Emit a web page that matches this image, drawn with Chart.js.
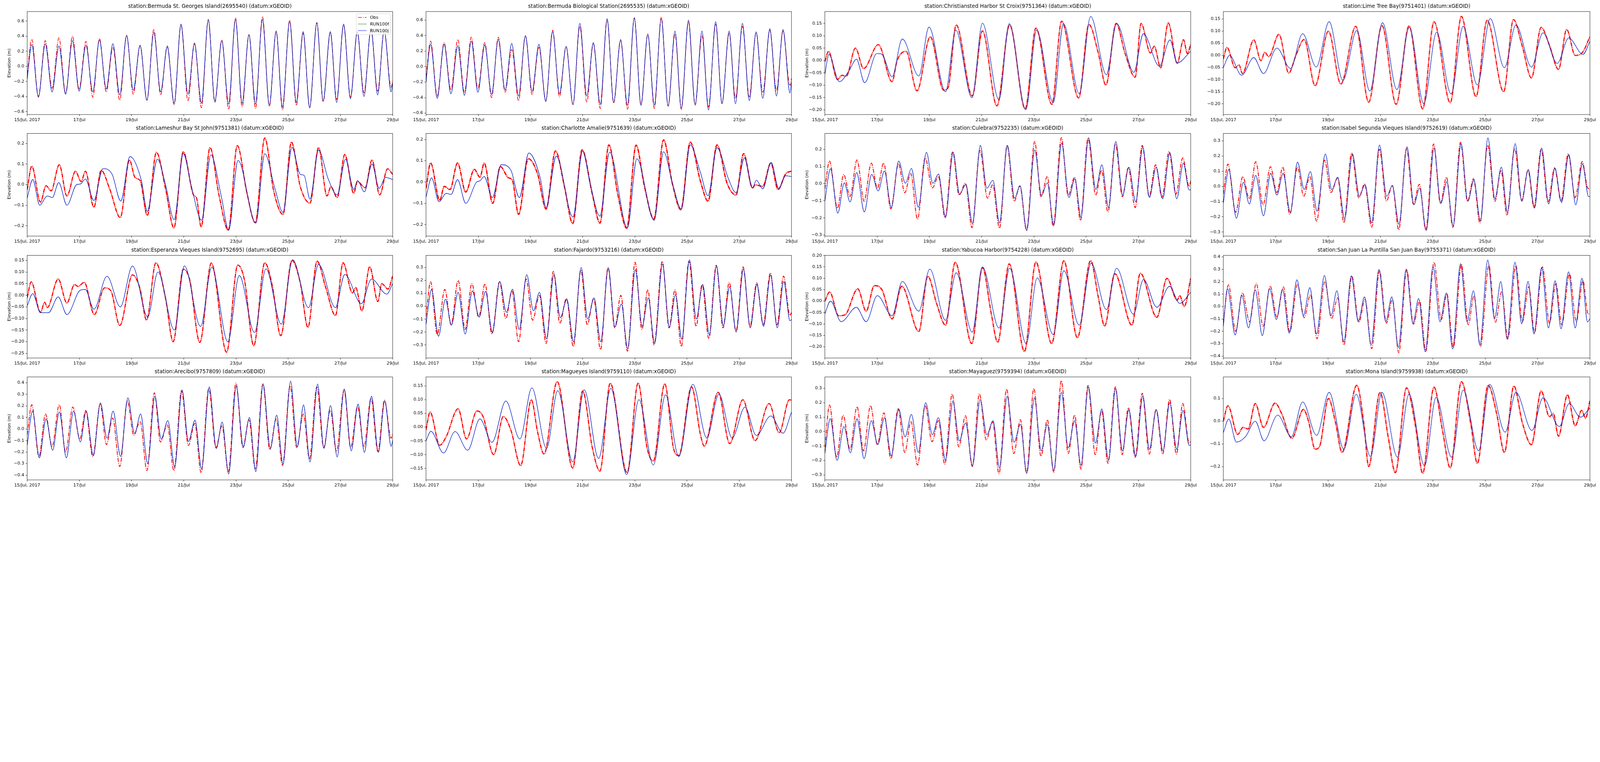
<!DOCTYPE html>
<html lang="en">
<head>
  <meta charset="UTF-8">
  <title>Water elevation at stations, 15-29 Jul 2017</title>
  <script src="https://cdn.jsdelivr.net/npm/chart.js"></script>
  <style>
    html, body { margin: 0; padding: 0; background: #fff; overflow: hidden; }
    #fig { position: relative; background: #fff; overflow: hidden; }
    #fig canvas { position: absolute; }
  </style>
</head>
<body>
<div id="fig"></div>
<script>
// ---- data (hours since 15/Jul 00:00, elevation in m) ----
const seriesNames = ['Obs', 'RUN100f', 'RUN100j'];
const xTicks = [0, 48, 96, 144, 192, 240, 288, 336];
const xTickLabels = ['15/Jul, 2017', '17/Jul', '19/Jul', '21/Jul', '23/Jul', '25/Jul', '27/Jul', '29/Jul'];

const titles = [
  'station:Bermuda St. Georges Island(2695540) (datum:xGEOID)',
  'station:Bermuda Biological Station(2695535) (datum:xGEOID)',
  'station:Christiansted Harbor St Croix(9751364) (datum:xGEOID)',
  'station:Lime Tree Bay(9751401) (datum:xGEOID)',
  'station:Lameshur Bay St John(9751381) (datum:xGEOID)',
  'station:Charlotte Amalie(9751639) (datum:xGEOID)',
  'station:Culebra(9752235) (datum:xGEOID)',
  'station:Isabel Segunda Vieques Island(9752619) (datum:xGEOID)',
  'station:Esperanza Vieques Island(9752695) (datum:xGEOID)',
  'station:Fajardo(9753216) (datum:xGEOID)',
  'station:Yabucoa Harbor(9754228) (datum:xGEOID)',
  'station:San Juan La Puntilla San Juan Bay(9755371) (datum:xGEOID)',
  'station:Arecibo(9757809) (datum:xGEOID)',
  'station:Magueyes Island(9759110) (datum:xGEOID)',
  'station:Mayaguez(9759394) (datum:xGEOID)',
  'station:Mona Island(9759938) (datum:xGEOID)'
];

const yLimits = [
  [-0.639, 0.726], [-0.618, 0.711], [-0.219, 0.198], [-0.244, 0.181],
  [-0.250, 0.249], [-0.254, 0.229], [-0.306, 0.293], [-0.327, 0.349],
  [-0.270, 0.172], [-0.401, 0.394], [-0.249, 0.2005], [-0.415, 0.4125],
  [-0.441, 0.451], [-0.192, 0.183], [-0.335, 0.379], [-0.258, 0.195]
];
const yTicks = [
  [-0.6, -0.4, -0.2, 0, 0.2, 0.4, 0.6],
  [-0.6, -0.4, -0.2, 0, 0.2, 0.4, 0.6],
  [-0.2, -0.15, -0.1, -0.05, 0, 0.05, 0.1, 0.15],
  [-0.2, -0.15, -0.1, -0.05, 0, 0.05, 0.1, 0.15],
  [-0.2, -0.1, 0, 0.1, 0.2],
  [-0.2, -0.1, 0, 0.1, 0.2],
  [-0.3, -0.2, -0.1, 0, 0.1, 0.2],
  [-0.3, -0.2, -0.1, 0, 0.1, 0.2, 0.3],
  [-0.25, -0.2, -0.15, -0.1, -0.05, 0, 0.05, 0.1, 0.15],
  [-0.3, -0.2, -0.1, 0, 0.1, 0.2, 0.3],
  [-0.2, -0.15, -0.1, -0.05, 0, 0.05, 0.1, 0.15, 0.2],
  [-0.4, -0.3, -0.2, -0.1, 0, 0.1, 0.2, 0.3, 0.4],
  [-0.4, -0.3, -0.2, -0.1, 0, 0.1, 0.2, 0.3, 0.4],
  [-0.15, -0.1, -0.05, 0, 0.05, 0.1, 0.15],
  [-0.3, -0.2, -0.1, 0, 0.1, 0.2, 0.3],
  [-0.2, -0.1, 0, 0.1]
];
const yDecimals = [1, 1, 2, 2, 1, 1, 1, 1, 2, 1, 2, 1, 1, 2, 1, 1];

// Bermuda: both stations share the same high/low times
const hoursBermuda = [0, 4.2, 10.3, 16.6, 22.9, 29.2, 35.3, 41.6, 47.7, 54.0, 60.3, 66.4, 72.7, 78.8, 85.1, 91.4,
  97.5, 103.8, 110.1, 116.4, 122.7, 128.8, 135.1, 141.4, 147.8, 153.8, 160.2, 166.5, 172.5, 178.9, 185.2, 191.5,
  197.6, 203.9, 209.9, 216.3, 222.6, 228.9, 234.7, 241.3, 247.4, 253.7, 259.7, 266.3, 272.1, 278.7, 284.5, 290.9,
  297.2, 303.5, 309.6, 316.1, 322.2, 328.2, 334.6, 336];
const obsStGeorges = [-0.10, 0.36, -0.40, 0.34, -0.29, 0.38, -0.36, 0.40, -0.30, 0.33, -0.41, 0.37, -0.34, 0.25, -0.45,
  0.41, -0.37, 0.27, -0.45, 0.49, -0.38, 0.27, -0.51, 0.55, -0.46, 0.30, -0.55, 0.62, -0.48, 0.35, -0.57, 0.64, -0.54,
  0.42, -0.56, 0.66, -0.53, 0.46, -0.58, 0.61, -0.52, 0.44, -0.55, 0.58, -0.47, 0.45, -0.44, 0.55, -0.41, 0.45, -0.35,
  0.48, -0.33, 0.47, -0.28, -0.19];
const runStGeorges = [-0.17, 0.29, -0.41, 0.30, -0.34, 0.27, -0.37, 0.34, -0.33, 0.28, -0.34, 0.35, -0.30, 0.30, -0.38,
  0.41, -0.32, 0.28, -0.45, 0.45, -0.34, 0.26, -0.49, 0.56, -0.37, 0.31, -0.49, 0.62, -0.46, 0.34, -0.50, 0.62, -0.49,
  0.42, -0.50, 0.62, -0.52, 0.47, -0.54, 0.60, -0.48, 0.46, -0.55, 0.58, -0.46, 0.46, -0.48, 0.56, -0.43, 0.46, -0.40,
  0.50, -0.38, 0.48, -0.34, -0.22];
const obsBermudaBio = [-0.13, 0.33, -0.38, 0.31, -0.30, 0.35, -0.33, 0.38, -0.28, 0.31, -0.40, 0.38, -0.33, 0.22, -0.44,
  0.40, -0.36, 0.25, -0.44, 0.47, -0.39, 0.26, -0.49, 0.52, -0.46, 0.30, -0.54, 0.60, -0.47, 0.35, -0.55, 0.63, -0.49,
  0.42, -0.54, 0.64, -0.51, 0.42, -0.55, 0.58, -0.50, 0.40, -0.52, 0.55, -0.47, 0.43, -0.41, 0.52, -0.39, 0.44, -0.33,
  0.47, -0.31, 0.46, -0.24, -0.15];
const runBermudaBio = [-0.20, 0.29, -0.41, 0.29, -0.35, 0.27, -0.37, 0.33, -0.33, 0.28, -0.36, 0.35, -0.30, 0.30, -0.38,
  0.40, -0.32, 0.29, -0.45, 0.45, -0.35, 0.26, -0.49, 0.56, -0.38, 0.31, -0.49, 0.62, -0.46, 0.34, -0.50, 0.63, -0.50,
  0.42, -0.50, 0.62, -0.51, 0.46, -0.54, 0.60, -0.49, 0.46, -0.56, 0.58, -0.48, 0.46, -0.48, 0.56, -0.44, 0.45, -0.41,
  0.49, -0.38, 0.48, -0.34, -0.20];

const obsChristiansted = [[0,-0.005],[3.3,0.037],[11.5,-0.077],[15.7,-0.06],[19.6,-0.064],[28.1,0.05],[35.5,-0.033],
  [49.1,0.064],[61.7,-0.086],[66.4,0.0],[74.6,0.037],[84.6,-0.123],[96.8,0.096],[109.0,-0.12],[113.2,-0.11],[120.6,0.144],
  [135.4,-0.144],[144.7,0.12],[158.0,-0.184],[169.7,0.144],[184.0,-0.196],[193.8,0.131],[208.5,-0.178],[217.4,0.159],
  [233.1,-0.152],[242.5,0.146],[251.1,0.03],[258.1,-0.10],[267.5,0.15],[275.6,0.03],[285.0,-0.068],[290.4,0.15],
  [299.0,0.03],[302.5,0.058],[308.4,-0.03],[315.4,0.152],[323.6,-0.011],[329.4,0.084],[332.9,0.028],[336,0.065]];
const runChristiansted = [[0,-0.055],[3.7,0.024],[13.3,-0.086],[22.0,-0.043],[29.0,0.005],[36.5,-0.09],[47.7,0.028],
  [52.4,0.025],[61.7,-0.066],[71.1,0.087],[86.3,-0.063],[95.6,0.135],[110.8,-0.127],[120.2,0.123],[135.1,-0.151],
  [144.7,0.151],[159.9,-0.159],[169.3,0.149],[184.5,-0.199],[194.5,0.123],[209.7,-0.171],[219.1,0.149],[233.6,-0.134],
  [244.1,0.178],[258.6,-0.058],[267.9,0.15],[283.8,-0.048],[292.5,0.108],[307.2,-0.023],[317.0,0.083],[323.6,-0.01],
  [336,0.037]];

const obsLimeTree = [[0,-0.015],[3.3,0.033],[10.9,-0.051],[14.4,-0.039],[17.5,-0.075],[27.9,0.064],[34.5,-0.022],
  [38.0,0.013],[41.6,-0.005],[51.0,0.087],[60.0,-0.073],[66.3,-0.003],[74.1,0.066],[84.1,-0.125],[96.3,0.10],
  [107.7,-0.118],[121.4,0.12],[133.2,-0.193],[145.4,0.123],[158.4,-0.202],[170.2,0.122],[182.7,-0.221],[193.1,0.139],
  [208.0,-0.195],[218.2,0.161],[231.6,-0.17],[241.8,0.145],[256.9,-0.15],[265.9,0.148],[274.1,0.036],[282.4,-0.093],
  [291.3,0.116],[298.9,0.042],[307.2,-0.058],[314.7,0.107],[322.5,0.0],[329.6,0.015],[336,0.078]];
const runLimeTree = [[0,-0.05],[5.7,0.0],[16.8,-0.082],[27.9,-0.009],[36.8,-0.075],[49.1,0.03],[61.6,-0.054],
  [72.7,0.09],[85.2,-0.048],[97.0,0.139],[109.6,-0.103],[122.3,0.103],[134.3,-0.147],[145.9,0.135],[159.1,-0.141],
  [170.5,0.116],[183.7,-0.199],[195.5,0.096],[208.7,-0.159],[219.8,0.12],[232.8,-0.122],[244.6,0.152],[257.6,-0.051],
  [268.2,0.126],[282.4,-0.048],[293.0,0.093],[306.0,-0.033],[316.6,0.072],[329.6,0.004],[336,0.058]];

const obsLameshur = [[0,-0.025],[4.2,0.09],[12.2,-0.085],[17.3,-0.005],[22.0,-0.03],[29.5,0.097],[36.5,-0.055],
  [44.4,0.065],[49.6,0.015],[53.5,0.065],[61.3,-0.11],[68.0,0.07],[75.8,-0.02],[85.6,-0.16],[94.0,0.12],[99.1,0.035],
  [103.8,0.02],[110.4,-0.15],[118.8,0.157],[127.2,-0.02],[134.9,-0.21],[143.5,0.16],[152.9,-0.05],[155.7,-0.065],
  [159.9,-0.205],[168.1,0.18],[176.3,-0.05],[184.9,-0.222],[193.1,0.19],[202.0,-0.04],[209.7,-0.185],[218.4,0.227],
  [226.6,-0.03],[235.2,-0.145],[242.9,0.207],[251.1,-0.01],[260.0,-0.09],[267.9,0.18],[275.6,-0.055],[279.2,-0.01],
  [285.0,-0.063],[292.0,0.147],[300.2,-0.042],[303.7,0.015],[310.7,-0.015],[317.0,0.12],[324.1,-0.05],[331.3,0.077],
  [336,0.05]];
const runLameshur = [[0,-0.065],[5.1,0.025],[11.5,-0.10],[18.5,-0.055],[23.1,-0.063],[29.0,0.01],[36.5,-0.10],
  [45.4,0.0],[48.9,0.003],[53.5,0.027],[61.3,-0.077],[69.7,0.078],[78.1,0.05],[86.0,-0.08],[94.5,0.137],[105.0,0.02],
  [110.4,-0.13],[119.7,0.124],[127.2,0.0],[135.1,-0.17],[143.5,0.152],[150.6,0.0],[160.4,-0.173],[168.8,0.145],
  [178.6,-0.06],[185.2,-0.222],[193.8,0.118],[210.2,-0.187],[218.4,0.15],[227.7,-0.018],[235.2,-0.135],[243.4,0.182],
  [251.1,0.05],[254.6,0.045],[260.0,-0.07],[267.9,0.168],[276.8,0.027],[285.0,-0.05],[292.7,0.124],[300.2,-0.024],
  [303.7,0.02],[310.0,-0.035],[317.0,0.10],[323.6,-0.018],[329.4,0.035],[336,0.025]];

const obsCharlotte = [[0,-0.03],[4.2,0.09],[12.6,-0.086],[16.8,-0.02],[22.0,-0.035],[29.0,0.09],[36.5,-0.047],
  [44.4,0.06],[49.6,0.023],[53.5,0.089],[61.3,-0.10],[68.3,0.073],[75.8,0.02],[79.3,0.01],[85.1,-0.152],[94.0,0.11],
  [102.6,0.038],[110.4,-0.127],[119.0,0.147],[127.2,-0.02],[134.9,-0.195],[143.5,0.152],[152.9,-0.057],[159.9,-0.193],
  [168.1,0.175],[176.3,-0.057],[184.5,-0.217],[193.1,0.174],[200.8,-0.02],[209.5,-0.174],[218.4,0.199],[226.6,-0.01],
  [234.3,-0.13],[242.9,0.188],[252.3,0.004],[259.3,-0.09],[267.5,0.175],[276.8,-0.006],[285.0,-0.061],[292.0,0.134],
  [300.2,-0.028],[302.5,-0.013],[309.6,-0.02],[317.0,0.09],[323.6,-0.035],[330.6,0.038],[336,0.052]];
const runCharlotte = [[0,-0.07],[5.1,0.02],[11.9,-0.093],[18.5,-0.053],[23.1,-0.058],[29.0,0.012],[36.5,-0.10],
  [46.5,0.0],[49.6,0.006],[53.5,0.026],[61.0,-0.073],[69.2,0.082],[78.1,0.055],[85.8,-0.073],[94.5,0.137],[105.0,0.02],
  [110.4,-0.12],[119.7,0.122],[135.1,-0.164],[144.0,0.146],[150.6,0.0],[159.9,-0.16],[168.8,0.14],[185.2,-0.215],
  [193.8,0.11],[209.7,-0.18],[218.4,0.143],[226.6,-0.006],[234.7,-0.126],[242.9,0.175],[252.3,0.045],[259.3,-0.064],
  [267.5,0.162],[278.0,0.016],[285.0,-0.05],[292.7,0.114],[300.2,-0.028],[303.7,0.009],[309.6,-0.032],[317.3,0.093],
  [324.3,-0.03],[330.6,0.03],[336,0.026]];

const obsCulebra = [[0,-0.03],[4.2,0.132],[11.5,-0.143],[17.3,0.053],[23.1,-0.074],[29.5,0.138],[36.0,-0.103],
  [42.6,0.12],[48.2,-0.027],[54.0,0.12],[60.6,-0.147],[67.6,0.116],[73.4,-0.053],[78.8,0.06],[85.1,-0.207],[92.1,0.15],
  [98.7,-0.025],[104.3,0.042],[110.4,-0.20],[117.4,0.187],[123.2,-0.067],[129.1,0.002],[135.1,-0.257],[142.4,0.194],
  [149.4,-0.085],[154.1,-0.005],[160.4,-0.26],[167.4,0.223],[173.9,-0.103],[179.1,-0.013],[185.2,-0.27],[192.7,0.246],
  [198.5,-0.076],[204.3,0.042],[209.7,-0.248],[217.2,0.268],[223.5,-0.07],[229.4,0.038],[234.7,-0.215],[241.7,0.263],
  [248.8,-0.067],[254.1,0.078],[260.0,-0.165],[266.8,0.232],[273.3,-0.076],[278.7,0.092],[285.0,-0.14],[291.5,0.223],
  [297.9,-0.076],[303.7,0.11],[309.6,-0.081],[316.1,0.188],[322.4,-0.062],[328.7,0.15],[334.6,-0.016],[336,0.016]];
const runCulebra = [[0,-0.10],[5.1,0.087],[11.9,-0.172],[17.8,0.005],[23.1,-0.107],[29.2,0.065],[36.2,-0.165],
  [43.0,0.054],[48.9,-0.043],[54.7,0.074],[61.0,-0.14],[67.8,0.132],[73.9,0.002],[79.5,0.089],[85.8,-0.138],[93.3,0.183],
  [99.1,0.002],[104.3,0.056],[110.8,-0.197],[117.8,0.183],[123.7,-0.062],[129.5,-0.005],[135.6,-0.234],[142.8,0.223],
  [148.7,-0.027],[154.3,0.02],[160.4,-0.23],[167.6,0.223],[174.2,-0.085],[179.3,-0.013],[185.4,-0.274],[192.7,0.197],
  [199.0,-0.07],[204.3,0.005],[210.2,-0.243],[217.4,0.237],[224.2,-0.081],[229.6,0.029],[235.2,-0.197],[242.2,0.268],
  [248.8,-0.034],[254.4,0.11],[260.5,-0.14],[267.2,0.246],[273.5,-0.067],[279.2,0.096],[285.5,-0.107],[292.0,0.214],
  [298.1,-0.081],[304.2,0.096],[310.3,-0.089],[316.8,0.18],[323.2,-0.089],[329.2,0.12],[334.6,-0.038],[336,-0.034]];

const obsIsabel = [[0,-0.05],[4.2,0.147],[11.3,-0.17],[17.9,0.065],[23.8,-0.082],[29.7,0.163],[36.4,-0.122],
  [43.2,0.13],[49.1,-0.04],[54.5,0.127],[60.9,-0.184],[68.0,0.127],[73.7,-0.065],[79.3,0.065],[85.5,-0.229],[92.8,0.173],
  [98.7,-0.04],[104.8,0.055],[110.5,-0.239],[117.6,0.22],[124.2,-0.076],[129.4,0.016],[136.0,-0.269],[143.1,0.245],
  [149.5,-0.096],[154.9,0.006],[160.8,-0.286],[167.9,0.249],[174.2,-0.116],[179.7,0.014],[185.6,-0.286],[192.7,0.28],
  [199.0,-0.112],[204.5,0.061],[210.4,-0.269],[217.4,0.29],[223.8,-0.098],[229.3,0.051],[235.2,-0.241],[242.3,0.271],
  [248.9,-0.098],[254.5,0.106],[259.9,-0.188],[267.0,0.249],[273.4,-0.092],[279.3,0.106],[284.7,-0.139],[291.3,0.245],
  [297.7,-0.102],[303.6,0.122],[309.5,-0.096],[316.1,0.214],[322.5,-0.073],[328.9,0.163],[334.3,-0.014],[336,-0.01]];
const runIsabel = [[0,-0.11],[5.0,0.112],[12.0,-0.21],[18.4,0.027],[23.8,-0.116],[29.7,0.073],[36.8,-0.194],
  [43.4,0.086],[49.1,-0.057],[54.8,0.086],[61.4,-0.171],[68.0,0.16],[74.1,-0.02],[79.8,0.098],[85.9,-0.163],[93.5,0.214],
  [99.4,-0.022],[104.8,0.061],[111.2,-0.214],[118.3,0.214],[124.7,-0.065],[129.9,0.012],[136.0,-0.241],[143.1,0.273],
  [149.7,-0.065],[154.9,0.004],[161.0,-0.249],[168.3,0.261],[174.7,-0.122],[179.9,-0.01],[186.0,-0.29],[193.1,0.255],
  [199.3,-0.112],[204.9,0.031],[210.6,-0.261],[217.9,0.282],[224.1,-0.098],[229.7,0.041],[235.6,-0.229],[242.5,0.32],
  [248.9,-0.082],[254.8,0.127],[260.4,-0.171],[267.5,0.282],[273.6,-0.098],[279.5,0.112],[285.2,-0.143],[291.8,0.253],
  [298.2,-0.116],[303.9,0.122],[310.0,-0.106],[316.6,0.21],[323.0,-0.122],[329.1,0.149],[334.8,-0.067],[336,-0.067]];

const obsEsperanza = [[0,-0.01],[3.7,0.058],[12.2,-0.073],[16.1,-0.03],[18.5,-0.053],[28.5,0.07],[36.5,-0.033],
  [43.5,0.046],[46.8,0.038],[52.4,0.056],[61.7,-0.083],[71.1,0.032],[76.9,0.02],[85.1,-0.13],[96.8,0.088],[103.8,0.027],
  [109.7,-0.107],[118.3,0.14],[127.2,-0.013],[134.2,-0.20],[143.5,0.112],[149.4,0.067],[158.7,-0.203],[169.3,0.139],
  [183.3,-0.245],[193.6,0.13],[199.7,0.067],[208.3,-0.217],[218.4,0.14],[225.4,0.04],[233.1,-0.174],[243.4,0.15],
  [251.1,0.053],[258.1,-0.138],[266.5,0.147],[274.5,0.033],[283.4,-0.087],[290.4,0.14],[299.0,0.01],[302.1,0.033],
  [307.7,-0.067],[314.9,0.123],[322.4,-0.027],[325.9,0.05],[331.8,0.027],[336,0.083]];
const runEsperanza = [[0,-0.045],[5.1,0.007],[12.2,-0.075],[19.6,-0.075],[28.5,-0.007],[36.5,-0.083],[48.9,0.022],
  [53.5,0.025],[61.3,-0.06],[73.4,0.082],[85.6,-0.05],[96.8,0.126],[110.8,-0.093],[120.2,0.10],[135.4,-0.15],
  [144.5,0.127],[159.4,-0.134],[169.7,0.12],[184.5,-0.20],[195.0,0.085],[209.0,-0.16],[219.5,0.114],[233.6,-0.124],
  [244.1,0.153],[258.6,-0.053],[267.9,0.133],[283.4,-0.053],[292.0,0.09],[307.2,-0.036],[316.6,0.07],[330.6,0.005],
  [336,0.05]];

const obsFajardo = [[0,-0.08],[4.2,0.19],[10.3,-0.22],[17.3,0.13],[23.1,-0.145],[29.5,0.20],[36.0,-0.18],[42.1,0.175],
  [48.4,-0.085],[54.2,0.173],[60.6,-0.215],[67.6,0.19],[73.4,-0.095],[79.0,0.12],[85.1,-0.275],[92.1,0.21],[98.0,-0.108],
  [104.3,0.084],[110.4,-0.288],[117.1,0.27],[123.0,-0.132],[129.1,0.06],[135.4,-0.312],[142.4,0.28],[148.2,-0.144],
  [154.1,0.06],[160.4,-0.336],[167.4,0.30],[173.5,-0.168],[179.1,0.084],[185.2,-0.348],[192.2,0.34],[198.5,-0.18],
  [203.9,0.127],[209.7,-0.30],[217.2,0.348],[223.5,-0.168],[228.9,0.127],[234.7,-0.312],[241.7,0.348],[248.3,-0.156],
  [253.9,0.168],[260.0,-0.252],[266.8,0.317],[273.1,-0.168],[278.7,0.185],[285.0,-0.192],[291.5,0.305],[297.9,-0.156],
  [304.0,0.18],[310.0,-0.144],[316.6,0.257],[322.7,-0.144],[328.7,0.233],[334.6,-0.072],[336,-0.048]];
const runFajardo = [[0,-0.14],[5.1,0.13],[11.5,-0.233],[17.8,0.055],[23.4,-0.146],[29.5,0.108],[36.0,-0.216],
  [42.6,0.118],[48.9,-0.084],[54.7,0.115],[61.0,-0.204],[67.8,0.192],[73.9,-0.048],[79.5,0.132],[85.6,-0.18],[92.6,0.245],
  [98.7,-0.036],[104.3,0.108],[110.8,-0.252],[117.6,0.247],[123.4,-0.089],[129.5,0.053],[135.6,-0.276],[142.6,0.30],
  [148.7,-0.098],[154.5,0.065],[160.6,-0.276],[167.6,0.295],[173.7,-0.16],[179.6,0.017],[185.4,-0.33],[192.4,0.283],
  [198.7,-0.156],[204.3,0.065],[210.2,-0.288],[217.4,0.328],[223.7,-0.163],[229.4,0.089],[235.2,-0.257],[242.2,0.36],
  [248.5,-0.10],[254.4,0.168],[260.5,-0.223],[267.0,0.312],[273.3,-0.15],[279.2,0.151],[285.2,-0.20],[291.8,0.288],
  [298.1,-0.168],[304.2,0.168],[310.3,-0.156],[316.8,0.242],[322.9,-0.168],[328.9,0.192],[334.6,-0.113],[336,-0.103]];

const obsYabucoa = [[0,0.0],[4.4,0.04],[12.6,-0.064],[18.5,-0.06],[30.2,0.054],[37.9,-0.044],[45.4,0.068],[52.4,0.05],
  [61.7,-0.078],[70.6,0.065],[86.3,-0.133],[94.5,0.109],[102.6,-0.01],[110.8,-0.105],[119.7,0.17],[134.9,-0.186],
  [144.7,0.147],[152.9,-0.057],[158.7,-0.18],[169.3,0.163],[183.3,-0.22],[193.8,0.171],[208.3,-0.186],[219.5,0.177],
  [231.9,-0.16],[244.1,0.177],[251.1,0.018],[256.9,-0.109],[266.3,0.12],[282.0,-0.105],[289.7,0.122],[304.9,-0.071],
  [314.2,0.10],[323.6,0.004],[325.9,0.024],[330.1,-0.023],[336,0.10]];
const runYabucoa = [[0,-0.055],[5.1,0.0],[15.0,-0.09],[29.0,-0.027],[37.9,-0.09],[48.2,0.024],[61.7,-0.064],
  [71.1,0.086],[86.3,-0.044],[96.3,0.14],[110.8,-0.084],[120.6,0.124],[135.4,-0.136],[144.7,0.15],[159.9,-0.118],
  [169.7,0.144],[184.9,-0.186],[195.0,0.102],[209.7,-0.146],[219.5,0.133],[233.6,-0.105],[244.6,0.166],[258.6,-0.037],
  [267.9,0.144],[283.4,-0.057],[292.7,0.095],[304.9,-0.027],[316.6,0.065],[325.9,-0.01],[336,0.038]];

const obsSanJuan = [[0,-0.13],[4.7,0.175],[11.3,-0.20],[17.5,0.11],[24.1,-0.123],[30.2,0.187],[36.4,-0.16],[43.0,0.165],
  [49.1,-0.085],[55.0,0.16],[60.9,-0.205],[68.0,0.178],[74.1,-0.09],[79.8,0.095],[85.9,-0.26],[93.0,0.20],[99.2,-0.098],
  [104.8,0.07],[110.5,-0.31],[117.8,0.245],[124.2,-0.128],[129.9,0.058],[136.0,-0.34],[143.1,0.29],[149.5,-0.135],
  [154.9,0.058],[160.8,-0.373],[168.1,0.295],[174.2,-0.143],[179.9,0.045],[185.6,-0.36],[193.1,0.357],[199.7,-0.105],
  [204.9,0.102],[210.8,-0.33],[218.2,0.34],[224.5,-0.148],[229.7,0.085],[235.6,-0.323],[243.4,0.333],[249.3,-0.128],
  [255.2,0.122],[260.7,-0.26],[268.2,0.328],[274.1,-0.123],[280.0,0.16],[285.2,-0.21],[292.5,0.32],[298.9,-0.135],
  [304.8,0.185],[310.2,-0.148],[317.3,0.265],[323.5,-0.123],[329.6,0.21],[334.3,-0.06],[336,-0.055]];
const runSanJuan = [[0,-0.16],[3.8,0.145],[10.9,-0.23],[17.0,0.09],[23.1,-0.173],[29.3,0.135],[35.7,-0.235],
  [42.5,0.145],[48.6,-0.105],[54.3,0.14],[60.4,-0.215],[67.5,0.215],[73.4,-0.073],[79.3,0.152],[85.5,-0.222],[92.6,0.25],
  [98.7,-0.073],[104.1,0.127],[110.5,-0.285],[117.3,0.248],[123.7,-0.12],[129.4,0.078],[135.5,-0.31],[142.6,0.30],
  [148.9,-0.123],[154.4,0.078],[160.5,-0.33],[167.6,0.302],[173.8,-0.135],[179.0,0.065],[185.1,-0.365],[192.2,0.322],
  [198.6,-0.123],[204.5,0.11],[210.1,-0.343],[217.4,0.345],[223.4,-0.123],[229.3,0.127],[235.2,-0.31],[242.3,0.375],
  [248.6,-0.098],[254.3,0.203],[260.2,-0.265],[267.3,0.357],[273.4,-0.14],[279.3,0.203],[284.7,-0.222],[291.8,0.315],
  [298.0,-0.173],[304.1,0.208],[309.5,-0.18],[316.4,0.28],[322.5,-0.173],[328.7,0.228],[333.8,-0.125],[336,-0.098]];

const obsArecibo = [[0,-0.05],[4.2,0.21],[10.8,-0.24],[16.8,0.13],[22.9,-0.15],[29.5,0.21],[35.3,-0.20],[41.9,0.19],
  [48.4,-0.087],[53.8,0.16],[60.3,-0.24],[67.1,0.215],[72.9,-0.135],[78.6,0.095],[85.1,-0.325],[92.1,0.243],[98.0,-0.055],
  [103.8,0.067],[110.1,-0.36],[116.9,0.313],[122.5,-0.113],[128.8,0.035],[134.9,-0.362],[141.9,0.332],[148.2,-0.143],
  [154.1,0.048],[159.9,-0.38],[166.9,0.35],[173.5,-0.162],[179.1,0.027],[184.9,-0.37],[191.9,0.397],[198.3,-0.162],
  [203.9,0.08],[209.7,-0.346],[216.7,0.39],[223.0,-0.18],[228.9,0.086],[234.7,-0.316],[241.7,0.373],[247.8,-0.162],
  [253.9,0.13],[259.5,-0.26],[266.3,0.365],[272.6,-0.162],[278.7,0.162],[284.3,-0.197],[291.3,0.338],[297.4,-0.162],
  [303.7,0.195],[309.6,-0.154],[316.1,0.265],[322.4,-0.195],[328.5,0.25],[334.6,-0.08],[336,-0.04]];
const runArecibo = [[0,-0.14],[4.9,0.155],[11.2,-0.25],[17.3,0.087],[23.4,-0.185],[29.5,0.148],[36.0,-0.25],
  [42.6,0.155],[48.9,-0.113],[54.2,0.155],[60.8,-0.232],[67.3,0.227],[73.4,-0.08],[79.0,0.155],[85.8,-0.238],[92.6,0.27],
  [98.7,-0.04],[104.3,0.13],[110.8,-0.30],[117.4,0.284],[123.2,-0.087],[129.3,0.073],[135.6,-0.33],[142.4,0.338],
  [148.2,-0.108],[154.3,0.076],[160.4,-0.346],[167.4,0.365],[173.9,-0.17],[179.3,0.06],[185.2,-0.39],[192.2,0.37],
  [198.7,-0.157],[204.3,0.10],[210.2,-0.37],[216.9,0.39],[223.5,-0.17],[229.4,0.12],[235.2,-0.305],[242.2,0.415],
  [248.3,-0.157],[254.1,0.21],[260.0,-0.286],[267.0,0.39],[272.8,-0.168],[278.9,0.203],[285.0,-0.243],[291.5,0.346],
  [297.9,-0.19],[304.2,0.216],[310.0,-0.203],[316.6,0.284],[322.9,-0.203],[328.7,0.243],[334.6,-0.15],[336,-0.10]];

const obsMagueyes = [[0,-0.01],[3.7,0.055],[12.6,-0.066],[18.5,-0.035],[29.5,0.067],[37.2,-0.043],[46.8,0.059],
  [52.4,0.039],[62.2,-0.10],[71.1,0.039],[78.1,-0.012],[87.0,-0.14],[96.8,0.10],[102.6,-0.018],[108.5,-0.098],
  [120.6,0.166],[134.9,-0.149],[144.0,0.132],[152.9,-0.075],[159.9,-0.16],[169.3,0.16],[184.9,-0.166],[195.0,0.161],
  [203.2,-0.075],[209.0,-0.123],[219.5,0.158],[227.7,-0.08],[232.4,-0.103],[244.1,0.147],[252.3,-0.027],[255.8,-0.069],
  [268.6,0.127],[279.2,-0.06],[291.3,0.10],[302.5,-0.049],[315.4,0.086],[324.7,-0.02],[334.1,0.10],[336,0.098]];
const runMagueyes = [[0,-0.05],[4.4,-0.015],[16.1,-0.094],[26.7,-0.016],[38.3,-0.084],[49.6,0.03],[60.6,-0.055],
  [73.4,0.095],[86.3,-0.043],[97.3,0.143],[110.8,-0.077],[121.1,0.133],[134.9,-0.126],[145.4,0.136],[158.7,-0.114],
  [169.9,0.141],[184.5,-0.173],[195.7,0.10],[209.0,-0.138],[220.2,0.118],[232.4,-0.107],[245.3,0.156],[258.1,-0.039],
  [269.3,0.12],[281.5,-0.039],[293.2,0.073],[303.7,-0.03],[317.0,0.041],[328.2,-0.022],[336,0.055]];

const obsMayaguez = [[0,-0.11],[4.2,0.184],[10.8,-0.178],[16.8,0.113],[23.1,-0.123],[29.5,0.173],[35.5,-0.134],
  [41.9,0.18],[48.2,-0.09],[54.2,0.13],[60.6,-0.188],[67.3,0.158],[73.4,-0.145],[79.0,0.071],[85.1,-0.232],[92.1,0.18],
  [98.4,-0.07],[104.3,0.076],[110.1,-0.227],[116.9,0.26],[123.0,-0.106],[129.1,0.11],[135.4,-0.242],[141.9,0.262],
  [148.2,-0.058],[154.1,0.067],[159.9,-0.292],[166.9,0.294],[173.5,-0.152],[179.6,0.082],[185.2,-0.286],[191.9,0.299],
  [198.5,-0.171],[204.3,0.082],[210.2,-0.281],[217.2,0.353],[223.5,-0.152],[229.4,0.115],[235.2,-0.26],[241.7,0.32],
  [248.3,-0.16],[254.1,0.147],[260.0,-0.22],[266.8,0.31],[273.1,-0.16],[278.7,0.165],[285.0,-0.178],[291.5,0.266],
  [297.9,-0.156],[304.2,0.152],[310.3,-0.156],[316.6,0.223],[322.9,-0.156],[328.7,0.195],[334.6,-0.08],[336,-0.07]];
const runMayaguez = [[0,-0.15],[4.9,0.09],[11.2,-0.20],[17.5,0.035],[23.4,-0.147],[29.5,0.089],[36.0,-0.188],
  [42.6,0.076],[48.6,-0.09],[54.7,0.097],[61.0,-0.169],[67.8,0.158],[73.6,-0.037],[79.5,0.119],[85.8,-0.145],[92.6,0.20],
  [98.7,-0.022],[104.3,0.097],[110.8,-0.20],[117.6,0.212],[123.4,-0.065],[129.3,0.06],[135.6,-0.236],[142.6,0.223],
  [148.7,-0.022],[154.5,0.076],[160.4,-0.253],[167.4,0.245],[173.7,-0.074],[179.6,0.05],[185.4,-0.29],[192.4,0.234],
  [198.7,-0.134],[204.3,0.05],[210.2,-0.27],[217.2,0.273],[223.5,-0.113],[229.4,0.076],[235.2,-0.236],[242.0,0.31],
  [248.5,-0.08],[254.4,0.158],[260.5,-0.20],[267.0,0.299],[273.3,-0.134],[279.2,0.152],[285.5,-0.173],[292.0,0.249],
  [298.1,-0.123],[304.4,0.152],[310.5,-0.134],[316.8,0.20],[323.2,-0.123],[328.9,0.147],[334.6,-0.097],[336,-0.09]];

const obsMona = [[0,0.0],[4.2,0.068],[13.2,-0.058],[18.0,-0.027],[22.7,-0.034],[29.3,0.078],[36.8,-0.027],[47.5,0.08],
  [53.4,0.034],[62.8,-0.075],[73.4,0.052],[78.1,0.0],[84.1,-0.123],[88.3,-0.11],[96.3,0.10],[102.9,-0.007],[108.8,-0.137],
  [122.3,0.158],[128.9,-0.014],[133.2,-0.199],[143.6,0.127],[151.3,-0.075],[157.7,-0.226],[167.9,0.147],[176.1,-0.02],
  [182.7,-0.229],[193.1,0.15],[200.9,-0.041],[208.0,-0.205],[218.2,0.174],[226.9,-0.014],[232.8,-0.185],[242.7,0.158],
  [250.5,0.034],[257.6,-0.137],[266.3,0.155],[274.1,-0.007],[282.4,-0.103],[291.3,0.133],[298.9,0.02],[302.4,0.034],
  [307.2,-0.066],[315.4,0.116],[322.5,-0.02],[328.4,0.048],[332.0,0.014],[336,0.09]];
const runMona = [[0,-0.05],[5.0,0.01],[12.0,-0.092],[20.3,-0.068],[29.3,0.0],[37.3,-0.086],[49.8,0.027],[62.3,-0.068],
  [72.7,0.085],[85.5,-0.062],[97.0,0.127],[110.5,-0.123],[121.8,0.119],[134.8,-0.155],[145.4,0.127],[159.6,-0.158],
  [170.2,0.119],[184.4,-0.196],[195.0,0.105],[209.2,-0.158],[219.8,0.137],[234.0,-0.13],[244.1,0.162],[258.3,-0.048],
  [268.2,0.127],[282.9,-0.041],[293.0,0.103],[307.9,-0.023],[317.1,0.078],[327.2,0.018],[336,0.058]];

// ---- build ----
function zip(hours, vals) { return hours.map((h, i) => ({ x: h, y: vals[i] })); }
function pts(pairs) { return pairs.map(p => ({ x: p[0], y: p[1] })); }

const panels = [
  [zip(hoursBermuda, obsStGeorges), zip(hoursBermuda, runStGeorges)],
  [zip(hoursBermuda, obsBermudaBio), zip(hoursBermuda, runBermudaBio)],
  [pts(obsChristiansted), pts(runChristiansted)],
  [pts(obsLimeTree), pts(runLimeTree)],
  [pts(obsLameshur), pts(runLameshur)],
  [pts(obsCharlotte), pts(runCharlotte)],
  [pts(obsCulebra), pts(runCulebra)],
  [pts(obsIsabel), pts(runIsabel)],
  [pts(obsEsperanza), pts(runEsperanza)],
  [pts(obsFajardo), pts(runFajardo)],
  [pts(obsYabucoa), pts(runYabucoa)],
  [pts(obsSanJuan), pts(runSanJuan)],
  [pts(obsArecibo), pts(runArecibo)],
  [pts(obsMagueyes), pts(runMagueyes)],
  [pts(obsMayaguez), pts(runMayaguez)],
  [pts(obsMona), pts(runMona)]
];

// figure pixels -> css pixels (the window may use a device scale factor)
const dpr = window.devicePixelRatio || 1;
const S = Math.min(1 / dpr, (window.innerWidth || 5150) / 5150);
const px = v => v * S;

Chart.defaults.font.family = '"DejaVu Sans", sans-serif';
Chart.defaults.color = '#000';

const colLeft = [87, 1371, 2655, 3938];
const colRight = [1264, 2548, 3832, 5117];
const rowTop = [37, 429, 821, 1213];
const rowBottom = [368, 760, 1152, 1544];
const Y_W = 80, X_H = 30, TOP = 37, RIGHT = 40;
const FS = 13.9, TITLE_FS = 16.7;
const OBS_DASH = [13, 3.5, 2.5, 3.5];
const NOISY_DASH = [14, 2, 3, 2];
const colors = ['#ff0000', '#008000', '#0000ff'];
// obs line weight per panel: the raw gauge records are noisy, so the red band looks heavier
const obsWeight = [2.2, 2.2, 3.6, 3.6, 3.6, 4.0, 2.8, 2.8, 3.6, 2.8, 3.8, 2.6, 2.6, 3.6, 2.8, 3.8];

const fig = document.getElementById('fig');
fig.style.width = px(5150) + 'px';
fig.style.height = px(1950) + 'px';

function fmtTick(v, dec) {
  const s = Math.abs(v) < 1e-9 ? (0).toFixed(dec) : v.toFixed(dec);
  return s.replace('-', '\u2212');
}

function drawLegend(ctx, a) {
  const x0 = a.right - px(117), y0 = a.top + px(7), w = px(110), h = px(67);
  ctx.save();
  ctx.beginPath();
  if (ctx.roundRect) ctx.roundRect(x0, y0, w, h, px(4)); else ctx.rect(x0, y0, w, h);
  ctx.fillStyle = 'rgba(255,255,255,0.8)';
  ctx.fill();
  ctx.strokeStyle = '#cccccc';
  ctx.lineWidth = px(1.1);
  ctx.stroke();
  seriesNames.forEach((name, i) => {
    const y = y0 + px(12 + i * 21);
    ctx.beginPath();
    ctx.setLineDash(i === 0 ? OBS_DASH.map(px) : []);
    ctx.strokeStyle = colors[i];
    ctx.lineWidth = px(i === 0 ? 2.1 : 1.2);
    ctx.moveTo(x0 + px(5), y);
    ctx.lineTo(x0 + px(33), y);
    ctx.stroke();
    ctx.setLineDash([]);
    ctx.fillStyle = '#000';
    ctx.font = px(FS) + 'px "DejaVu Sans"';
    ctx.textAlign = 'left';
    ctx.textBaseline = 'middle';
    ctx.fillText(name, x0 + px(44), y + px(1));
  });
  ctx.restore();
}

const frame = {
  id: 'frame',
  afterDraw(chart, args, opts) {
    const { ctx, chartArea: a } = chart;
    ctx.save();
    ctx.strokeStyle = '#000';
    ctx.lineWidth = px(1.1);
    ctx.strokeRect(a.left, a.top, a.right - a.left, a.bottom - a.top);
    ctx.fillStyle = '#000';
    ctx.font = px(TITLE_FS) + 'px "DejaVu Sans"';
    ctx.textAlign = 'center';
    ctx.textBaseline = 'alphabetic';
    ctx.fillText(opts.title, (a.left + a.right) / 2, a.top - px(12));
    if (opts.legend) drawLegend(ctx, a);
    ctx.restore();
  }
};

panels.forEach((p, i) => {
  const col = i % 4, row = Math.floor(i / 4);
  const axW = colRight[col] - colLeft[col];
  const axH = rowBottom[row] - rowTop[row];
  const cv = document.createElement('canvas');
  const W = px(axW + Y_W + RIGHT), H = px(axH + TOP + X_H);
  cv.style.width = W + 'px';
  cv.style.height = H + 'px';
  cv.style.left = px(colLeft[col] - Y_W) + 'px';
  cv.style.top = px(rowTop[row] - TOP) + 'px';
  fig.appendChild(cv);

  const noisy = obsWeight[i] > 3;
  const line = (k, data) => ({
    label: seriesNames[k],
    data: data.map(d => ({ x: d.x, y: d.y })),
    borderColor: colors[k],
    borderWidth: px(k === 0 ? obsWeight[i] : 1.3),
    borderDash: k === 0 ? (noisy ? NOISY_DASH : OBS_DASH).map(px) : [],
    pointRadius: 0,
    fill: false,
    cubicInterpolationMode: 'monotone',
    order: 3 - k
  });

  const axisGrid = { drawOnChartArea: false, drawTicks: true, tickLength: px(5), color: '#000', lineWidth: px(1.1) };

  new Chart(cv, {
    type: 'line',
    data: { datasets: [line(0, p[0]), line(1, p[1]), line(2, p[1])] },
    options: {
      responsive: false,
      animation: false,
      events: [],
      layout: { padding: { top: px(TOP), right: px(RIGHT), left: 0, bottom: 0 } },
      plugins: {
        legend: { display: false },
        tooltip: { enabled: false },
        title: { display: false },
        frame: { title: titles[i], legend: i === 0 }
      },
      scales: {
        x: {
          type: 'linear', min: 0, max: 336,
          afterBuildTicks: s => { s.ticks = xTicks.map(v => ({ value: v })); },
          afterFit: s => { s.height = px(X_H); },
          ticks: { autoSkip: false, maxRotation: 0, padding: px(4.5), font: { size: px(FS) },
            callback: (v, idx) => xTickLabels[idx] },
          grid: axisGrid,
          border: { display: false }
        },
        y: {
          type: 'linear', min: yLimits[i][0], max: yLimits[i][1],
          afterBuildTicks: s => { s.ticks = yTicks[i].map(v => ({ value: v })); },
          afterFit: s => { s.width = px(Y_W); },
          ticks: { autoSkip: false, padding: px(4.5), font: { size: px(FS) },
            callback: v => fmtTick(v, yDecimals[i]) },
          grid: axisGrid,
          border: { display: false },
          title: { display: col === 0 || col === 2, text: 'Elevation (m)', font: { size: px(FS) },
            padding: { top: px(14), bottom: 0 } }
        }
      }
    },
    plugins: [frame]
  });
});
</script>
</body>
</html>
